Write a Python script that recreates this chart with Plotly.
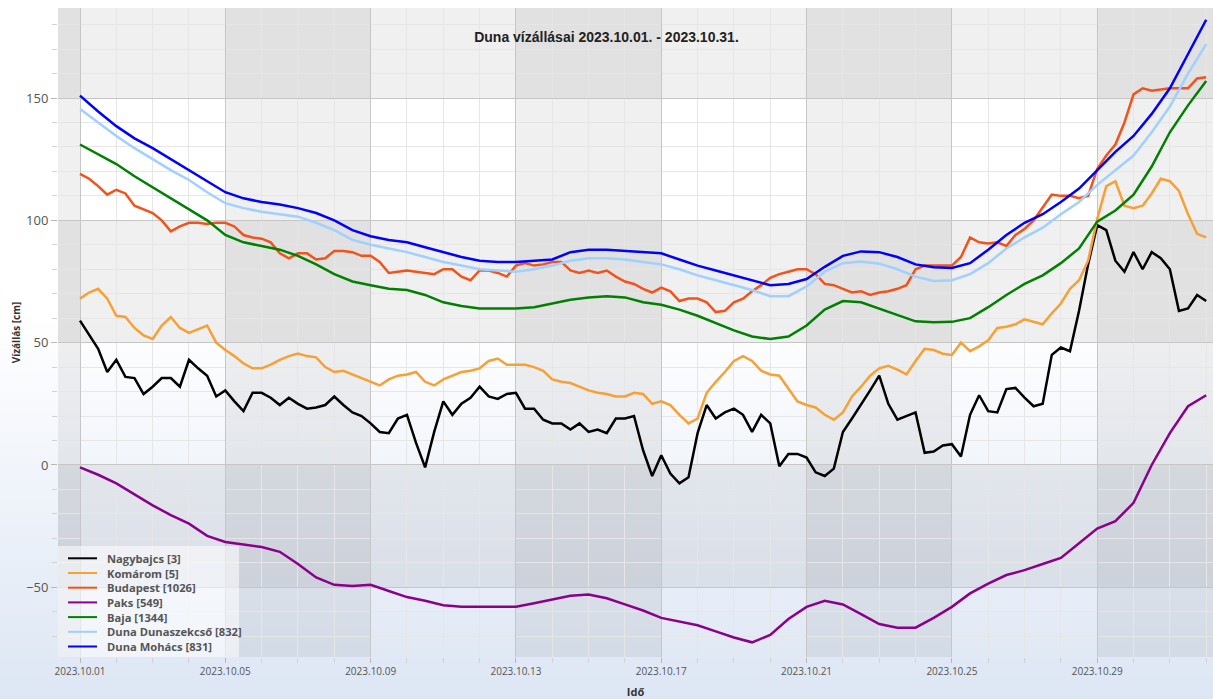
import base64
import pandas as pd
import plotly.graph_objects as go

# Water levels (cm), 6-hourly from 2023-10-01 00:00 to 2023-11-01 00:00
nagybajcs = [
    59, 53, 47.5, 38, 43, 36, 35.5, 29,
    32, 35.5, 35.5, 32, 43, 39.5, 36.5, 28,
    30.5, 26, 22, 29.5, 29.5, 27.5, 24.5, 27.5,
    25, 23, 23.5, 24.5, 28, 24.5, 21.5, 20,
    17, 13.5, 13, 19, 20.5, 9, -1, 13.5,
    26, 20.5, 25, 27.5, 32, 28, 27, 29,
    29.5, 23, 23, 18.5, 17, 17, 14.5, 17,
    13.5, 14.5, 13, 19, 19, 20, 6, -4.5,
    4, -3.5, -7.5, -5, 13, 24.5, 19, 21.5,
    23, 20.5, 13.5, 20.5, 17, -0.5, 4.5, 4.5,
    3, -3, -4.5, -1.5, 13.5, 19, 24.5, 30.5,
    36.5, 25, 18.5, 20, 21.5, 5, 5.5, 8,
    8.5, 3.5, 20.5, 28.5, 22, 21.5, 31, 31.5,
    27.5, 24, 25, 45, 48, 46.5, 63, 82,
    98, 96, 83.5, 79, 87, 80, 87, 84.5,
    80, 63, 64, 69.5, 67,
]
komarom = [
    68, 70.5, 72, 68, 61, 60.5, 56, 53,
    51.5, 57, 60.5, 56, 54, 55.5, 57, 50,
    47, 44.5, 41.5, 39.5, 39.5, 41, 43, 44.5,
    45.5, 44.5, 44, 40, 38, 38.5, 37, 35.5,
    34, 32.5, 35, 36.5, 37, 38, 34, 32.5,
    35, 36.5, 38, 38.5, 39.5, 42.5, 43.5, 41,
    41, 41, 40, 38.5, 35, 34, 33.5, 32,
    30.5, 29.5, 29, 28, 28, 29.5, 29, 25,
    26, 24.5, 20.5, 17, 19, 29.5, 34, 38,
    42.5, 44.5, 42.5, 38.5, 37, 36.5, 31, 26,
    24.5, 23.5, 20.5, 18.5, 21.5, 28, 32, 36.5,
    39.5, 40.5, 39, 37, 42.5, 47.5, 47, 45.5,
    45, 50, 46.5, 48.5, 51, 56, 56.5, 57.5,
    59.5, 58.5, 57.5, 62, 66, 72, 75.5, 83.5,
    100.5, 114, 116, 106, 105, 106, 111, 117,
    116, 112, 102.5, 94.5, 93,
]
budapest = [
    119, 117, 114, 110.5, 112.5, 111, 106, 104.5,
    103, 100, 95.5, 97.5, 99, 99, 98.5, 99,
    99, 97.5, 94, 93, 92.5, 91, 86.5, 84.5,
    86.5, 86.5, 84, 84.5, 87.5, 87.5, 87, 85.5,
    85.5, 83, 78.5, 79, 79.5, 79, 78.5, 78,
    80, 80, 77, 75.5, 79.5, 79.5, 78.5, 77,
    81.5, 82.5, 81.5, 82, 83, 83, 79.5, 78.5,
    79.5, 78.5, 79.5, 77, 75, 74, 72, 70.5,
    72.5, 71, 67, 68, 68, 66.5, 62.5, 63,
    66.5, 68, 71, 73.5, 76.5, 78, 79, 80,
    80, 78, 74, 73.5, 72, 70.5, 71, 69.5,
    70.5, 71, 72, 73.5, 80, 81.5, 81.5, 81.5,
    81.5, 85, 93, 91, 90.5, 91, 89.5, 94,
    96.5, 100, 105, 110.5, 110, 110, 109, 110,
    121, 126.5, 131, 140, 151.5, 154, 153, 153.5,
    154, 154, 154, 158, 158.5,
]

# Water levels (cm), 12-hourly from 2023-10-01 00:00 to 2023-11-01 00:00
paks = [
    -1, -4, -7.5, -12, -16.5, -20.5, -24, -29,
    -31.5, -32.5, -33.5, -35.5, -40.5, -46, -49, -49.5,
    -49, -51.5, -54, -55.5, -57.3, -58, -58, -58,
    -58, -56.5, -55, -53.5, -53, -54.5, -57, -59.5,
    -62.5, -64, -65.5, -68, -70.5, -72.5, -69.5, -63,
    -58, -55.5, -57, -61, -65, -66.5, -66.5, -62.5,
    -58, -52.5, -48.5, -45, -43, -40.5, -38, -32,
    -26, -23, -15.5, 0, 13, 24, 28.5,
]
baja = [
    131, 127, 123, 118, 113.5, 109, 104.5, 100,
    94, 91, 89.5, 88, 85.5, 82, 78, 75,
    73.5, 72, 71.5, 69.5, 66.5, 65, 64, 64,
    64, 64.5, 66, 67.5, 68.5, 69, 68.5, 66.5,
    65.5, 63.5, 61, 58, 55, 52.5, 51.5, 52.5,
    57, 63.5, 67, 66.5, 64, 61.5, 58.7, 58.3,
    58.5, 60, 64.5, 69.5, 74, 77.5, 82.5, 88.5,
    99.5, 104, 110.5, 122, 136, 147, 157,
]
dunaszekcso = [
    145.5, 140, 134.5, 129.5, 125, 120.5, 116.5, 111.5,
    107, 105, 103.5, 102.5, 101.5, 99, 96, 92,
    90, 88.5, 87, 85, 83, 81.5, 80, 79.5,
    79, 80, 81.5, 83.5, 84.5, 84.5, 84, 83,
    82, 80, 77.5, 75.5, 73.5, 71.5, 69, 69,
    73, 79, 82.5, 83.2, 82.3, 80, 77, 75.2,
    75.5, 78, 82.5, 88.5, 93, 97, 102.5, 107.5,
    114.5, 120.5, 126.5, 136, 146.5, 160, 172,
]
mohacs = [
    151, 144.5, 138.5, 133.5, 129.5, 125, 120.5, 116,
    111.5, 109, 107.5, 106.5, 105, 103, 100, 96,
    93.5, 92, 91, 89, 87, 85, 83.5, 83,
    83, 83.5, 84, 87, 88, 88, 87.5, 87,
    86.5, 84, 81.5, 79.5, 77.5, 75.5, 73.5, 74,
    76, 81, 85.5, 87.3, 87, 85, 82, 80.8,
    80.5, 82.5, 88, 94, 99, 102.5, 107.5, 113,
    120.5, 128, 134.5, 143.5, 154, 168, 182,
]

NAMES = ["Nagybajcs [3]", "Komárom [5]", "Budapest [1026]", "Paks [549]",
         "Baja [1344]", "Duna Dunaszekcső [832]", "Duna Mohács [831]"]
COLORS = ["#000000", "#f7a035", "#f2531a", "#8b008b", "#008000", "#9fd0ff", "#0000ff"]

X_RANGE = ["2023-09-30 09:28", "2023-11-01 04:30"]
Y_RANGE = [-78.5, 186.8]
Y_BANDS = [-50, 0, 50, 100, 150]
DAY_MS = 86400000

t6 = pd.date_range("2023-10-01", periods=len(nagybajcs), freq="6h")
t12 = pd.date_range("2023-10-01", periods=len(paks), freq="12h")
values = [nagybajcs, komarom, budapest, paks, baja, dunaszekcso, mohacs]
times = [t6, t6, t6, t12, t12, t12, t12]

W, H = 1213, 699
M = dict(l=58, r=0, t=8, b=42)
PW, PH = W - M["l"] - M["r"], H - M["t"] - M["b"]

fig = go.Figure()
for name, t, v, c in zip(NAMES, times, values, COLORS):
    fig.add_trace(go.Scatter(x=t, y=v, name=name, mode="lines",
                             line=dict(color=c, width=2.5), showlegend=False))

# page background: white fading to light blue towards the bottom
svg = ('<svg xmlns="http://www.w3.org/2000/svg" width="100" height="100" '
       'viewBox="0 0 100 100" preserveAspectRatio="none"><defs>'
       '<linearGradient id="g" x1="0" y1="0" x2="0" y2="1">'
       '<stop offset="0" stop-color="#ffffff"/><stop offset="0.45" stop-color="#ffffff"/>'
       '<stop offset="1" stop-color="#dde6f4"/></linearGradient></defs>'
       '<rect width="100" height="100" fill="url(#g)"/></svg>')
fig.add_layout_image(source="data:image/svg+xml;base64," + base64.b64encode(svg.encode()).decode(),
                     xref="paper", yref="paper", x=-M["l"] / PW, y=1 + M["t"] / PH,
                     sizex=1 + M["l"] / PW, sizey=1 + (M["t"] + M["b"]) / PH,
                     sizing="stretch", xanchor="left", yanchor="top", layer="below")

# alternating shaded bands (4-day columns, 50 cm rows)
SHADE = "rgba(0,0,0,0.06)"
majors = [str(d) for d in pd.date_range("2023-10-01", "2023-10-29", freq="4D")]
col_edges = [X_RANGE[0]] + majors + [X_RANGE[1]]
for i in range(0, len(col_edges) - 1, 2):
    fig.add_shape(type="rect", xref="x", yref="paper", x0=col_edges[i], x1=col_edges[i + 1],
                  y0=0, y1=1, fillcolor=SHADE, line_width=0, layer="below")
row_edges = [Y_RANGE[0]] + Y_BANDS + [Y_RANGE[1]]
for i in range(1, len(row_edges) - 1, 2):
    fig.add_shape(type="rect", xref="paper", yref="y", x0=0, x1=1,
                  y0=row_edges[i], y1=row_edges[i + 1], fillcolor=SHADE, line_width=0, layer="below")

# legend box drawn by hand (compact rows)
lx1, ltop, row_h, first_row = 239, 546, 14.7, 558.3
fig.add_shape(type="rect", xref="paper", yref="paper", x0=0, x1=(lx1 - M["l"]) / PW,
              y0=0, y1=(H - M["b"] - ltop) / PH, fillcolor="rgba(255,255,255,0.55)", line_width=0,
              layer="above")
for i, (name, c) in enumerate(zip(NAMES, COLORS)):
    py = first_row + i * row_h
    yp = (H - M["b"] - py) / PH
    fig.add_shape(type="line", xref="paper", yref="paper", x0=(68 - M["l"]) / PW, x1=(97 - M["l"]) / PW,
                  y0=yp, y1=yp, line=dict(color=c, width=2), layer="above")
    fig.add_annotation(xref="paper", yref="paper", x=(105 - M["l"]) / PW, y=yp, text=f"<b>{name}</b>",
                       showarrow=False, xanchor="left", yanchor="middle",
                       font=dict(family="Open Sans", size=11.2, color="#555555"))

fig.update_xaxes(type="date", range=X_RANGE, tick0="2023-10-01", dtick=4 * DAY_MS,
                 tickformat="%Y.%m.%d", showgrid=True, gridcolor="#c6c6c6", gridwidth=1,
                 ticks="outside", ticklen=5, tickcolor="#b8b8b8", showline=False, zeroline=False,
                 tickfont=dict(family="Open Sans", size=10, color="#555555"),
                 minor=dict(dtick=DAY_MS, showgrid=True, gridcolor="#e6e6e6", ticks="outside",
                            ticklen=5, tickcolor="#d2d2d2"),
                 title=dict(text="<b>Idő</b>", standoff=13,
                            font=dict(family="Open Sans", size=11, color="#333333")))
fig.update_yaxes(range=Y_RANGE, tick0=0, dtick=50, showgrid=True, gridcolor="#c6c6c6",
                 ticks="outside", ticklen=6, tickcolor="#b8b8b8", showline=False, zeroline=False,
                 tickfont=dict(family="Open Sans", size=13, color="#555555"),
                 minor=dict(dtick=10, showgrid=True, gridcolor="#e6e6e6", ticks="outside",
                            ticklen=5, tickcolor="#d2d2d2"),
                 title=dict(text="<b>Vízállás [cm]</b>", standoff=3,
                            font=dict(family="Open Sans", size=10, color="#333333")))

fig.update_layout(
    width=W, height=H, margin=M,
    paper_bgcolor="#ffffff", plot_bgcolor="rgba(0,0,0,0)",
    title=dict(text="<b>Duna vízállásai 2023.10.01. - 2023.10.31.</b>", x=0.5, xanchor="center",
               y=1 - 37 / H, yanchor="middle",
               font=dict(family="Liberation Sans", size=14, color="#222222")),
    showlegend=False,
)

# drop the browser's default body margin so the figure fills the window exactly
fig.write_html("out.html", config={"displayModeBar": False},
               post_script="document.body.style.margin='0';document.body.style.overflow='hidden';")
